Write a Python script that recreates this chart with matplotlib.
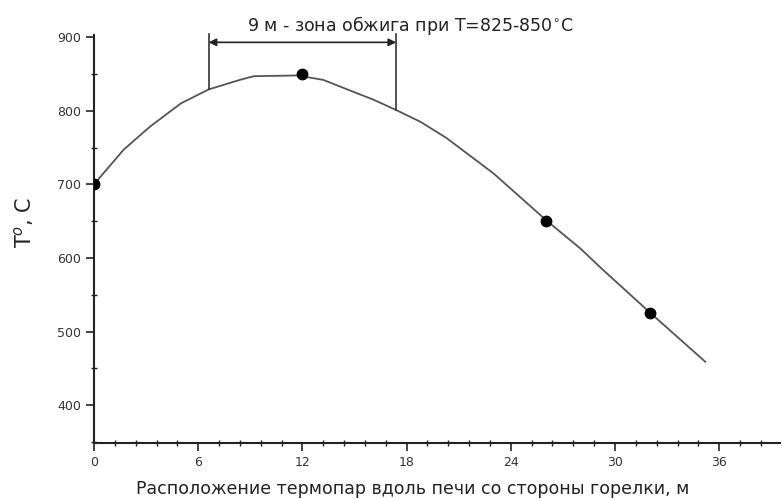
import matplotlib
matplotlib.use("Agg")
import matplotlib.pyplot as plt
from matplotlib.ticker import MultipleLocator

plt.rcParams['font.family'] = ['DejaVu Sans']

# measured thermocouple points
pt_x = [0, 12, 26, 32]
pt_T = [700, 850, 650, 525]

# fitted curve
curve_x = [0, 1.7, 3.2, 5.0, 6.6, 8.4, 9.2, 11.7, 13.2, 14.7, 16.1, 17.4,
           18.8, 20.3, 23.0, 26.1, 28.0, 29.3, 32.1, 35.2]
curve_T = [700, 747, 778, 810, 829, 842, 847, 848, 842, 828, 815, 801,
           785, 763, 715, 650, 613, 584, 524, 459]

# firing zone bounds
zone_x = [6.6, 17.4]
zone_T = [829, 801]
zone_top = 905
arrow_T = 893

x_ticks = [0, 6, 12, 18, 24, 30, 36]
y_ticks = [400, 500, 600, 700, 800, 900]

fig = plt.figure(figsize=(7.82, 4.99), dpi=100)
ax = fig.add_axes([0.1202, 0.1128, 0.8772, 0.8171])

ax.plot(curve_x, curve_T, color='#555555', lw=1.3, zorder=2)
ax.plot(pt_x, pt_T, 'o', color='black', ms=7.5, zorder=3)

for zx, zt in zip(zone_x, zone_T):
    ax.plot([zx, zx], [zt, zone_top], color='#333333', lw=1.2, clip_on=False)
ax.annotate('', xy=(zone_x[0], arrow_T), xytext=(zone_x[1], arrow_T),
            arrowprops=dict(arrowstyle='<|-|>', color='#222222', lw=1.2,
                            mutation_scale=11, shrinkA=0, shrinkB=0),
            annotation_clip=False)
ax.text(18.2, 916, '9 м - зона обжига при T=825-850$^{\\circ}$C',
        ha='center', va='center', fontsize=12.5, color='#222222', clip_on=False)

ax.set_xlim(0, 39.5)
ax.set_ylim(349, 903)
ax.set_xticks(x_ticks)
ax.set_yticks(y_ticks)
ax.xaxis.set_minor_locator(MultipleLocator(1.2))
ax.yaxis.set_minor_locator(MultipleLocator(50))

for s in ['top', 'right']:
    ax.spines[s].set_visible(False)
for s in ['left', 'bottom']:
    ax.spines[s].set_linewidth(1.5)
    ax.spines[s].set_color('#222222')

ax.tick_params(axis='both', which='major', direction='out', length=6, width=1.2,
               labelsize=9, labelcolor='#333333', color='#222222')
ax.tick_params(axis='both', which='minor', direction='inout', length=5, width=1.0,
               color='#222222')

ax.set_xlabel('Расположение термопар вдоль печи со стороны горелки, м',
              fontsize=12.5, color='#222222', va='center')
ax.xaxis.set_label_coords(0.465, -0.113)
ax.set_ylabel('T$^{o}$, C', fontsize=15, color='#222222')
ax.yaxis.set_label_coords(-0.085, 0.54)

fig.savefig('out.png', dpi=100)
